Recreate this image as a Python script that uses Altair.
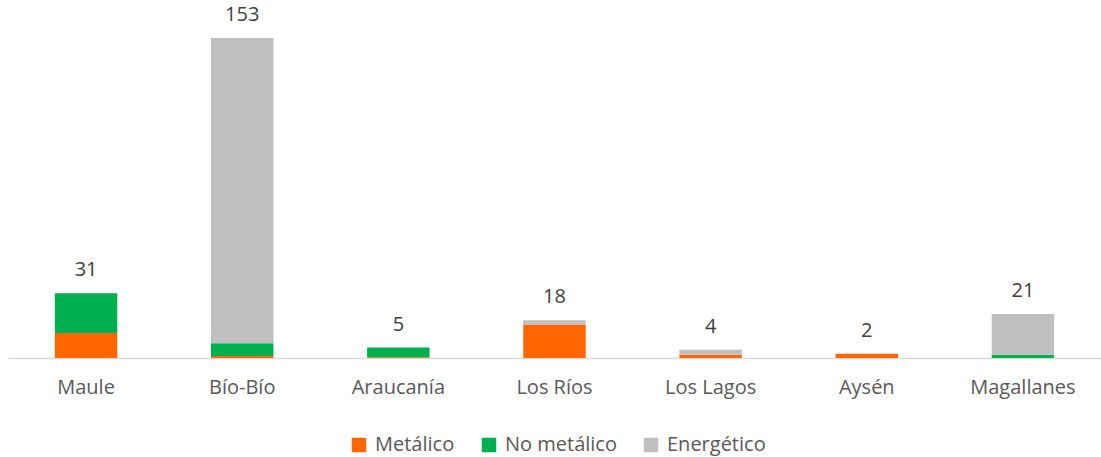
import altair as alt
import pandas as pd

regions = ["Maule", "Bío-Bío", "Araucanía", "Los Ríos", "Los Lagos", "Aysén", "Magallanes"]
metalico = [12, 1, 0.4, 16, 1.5, 2, 0]
no_metalico = [19, 6, 4.6, 0, 0, 0, 1.5]
energetico = [0, 146, 0, 2, 2.5, 0, 19.5]
totals = [31, 153, 5, 18, 4, 2, 21]
series = ["Metálico", "No metálico", "Energético"]
colors = ["#FF6600", "#00B050", "#BFBFBF"]

rows = []
for i, r in enumerate(regions):
    for k, (s, vals) in enumerate(zip(series, [metalico, no_metalico, energetico])):
        rows.append({"region": r, "serie": s, "valor": vals[i], "orden": k})
df = pd.DataFrame(rows)
tot = pd.DataFrame({"region": regions, "total": totals})

FONT = "Open Sans"
FS = 20
x = alt.X("region:N", sort=regions, title=None,
          scale=alt.Scale(paddingInner=0.6, paddingOuter=0.3),
          axis=alt.Axis(labelAngle=0, ticks=False, domainColor="#D9D9D9", domainWidth=1.5,
                        labelFontSize=FS, labelColor="#595959", labelFont=FONT, labelPadding=19,
                        grid=False))
yscale = alt.Scale(domain=[0, 153], nice=False)

bars = alt.Chart(df).mark_bar().encode(
    x=x,
    y=alt.Y("valor:Q", stack="zero", scale=yscale, axis=None),
    color=alt.Color("serie:N", sort=series,
                    scale=alt.Scale(domain=series, range=colors),
                    legend=alt.Legend(title=None, orient="none", direction="horizontal",
                                      legendX=341, legendY=397, padding=0,
                                      symbolType="square", symbolSize=210, symbolStrokeWidth=0,
                                      labelFontSize=FS, labelColor="#595959", labelFont=FONT,
                                      labelOffset=6, columnPadding=24, symbolOffset=0)),
    order=alt.Order("orden:Q"),
)

labels = alt.Chart(tot).mark_text(dy=-23, fontSize=FS, color="#404040", font=FONT,
                                  baseline="middle").encode(
    x=alt.X("region:N", sort=regions),
    y=alt.Y("total:Q", scale=yscale),
    text=alt.Text("total:Q"),
)

chart = alt.layer(bars, labels).properties(
    width=1093, height=320, background="white",
    padding={"left": 8, "top": 5, "right": 0, "bottom": 4},
).configure_view(stroke=None)

chart.save("out.html", embed_options={"renderer": "svg", "actions": False})
